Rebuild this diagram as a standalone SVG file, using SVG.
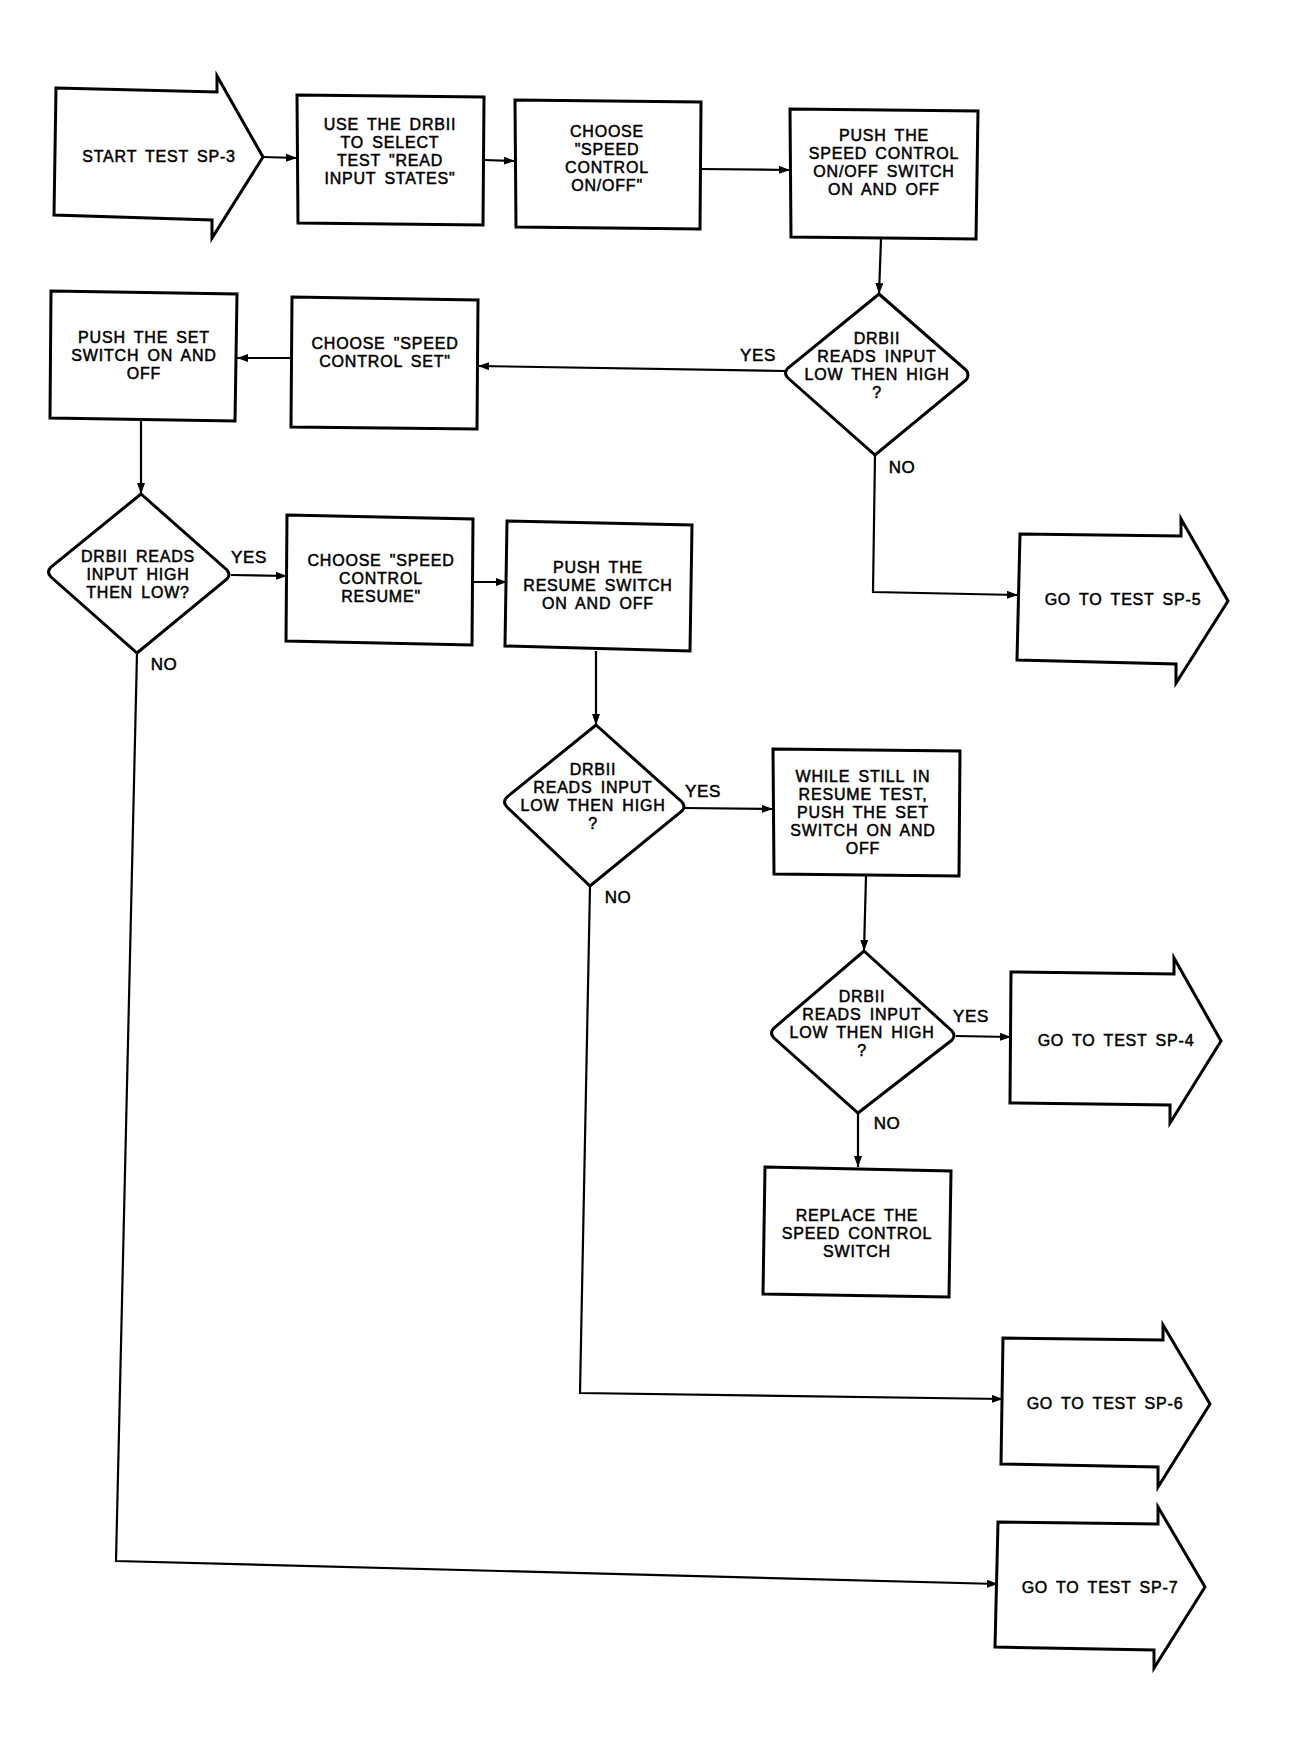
<svg xmlns="http://www.w3.org/2000/svg" width="1290" height="1751" viewBox="0 0 1290 1751">
<style>
.n{fill:#fff;stroke:#000;stroke-width:3;stroke-linejoin:miter}
.c{fill:none;stroke:#000;stroke-width:2.2}
.t{font-family:'Liberation Sans',Arial,sans-serif;font-size:16px;letter-spacing:0.8px;word-spacing:3px;text-anchor:middle;fill:#000;stroke:#000;stroke-width:0.5}
.l{font-family:'Liberation Sans',Arial,sans-serif;font-size:17px;letter-spacing:0.6px;text-anchor:middle;fill:#000;stroke:#000;stroke-width:0.5}
</style>
<defs>
<marker id="ah" markerUnits="userSpaceOnUse" markerWidth="12" markerHeight="10" refX="11" refY="4" orient="auto">
<path d="M0,0 L11,4 L0,8 z" fill="#000"/>
</marker>
</defs>
<rect width="1290" height="1751" fill="#fff"/>

<g id="connectors">
<line class="c" x1="263" y1="157" x2="297" y2="158" marker-end="url(#ah)"/>
<line class="c" x1="484" y1="160" x2="515" y2="161" marker-end="url(#ah)"/>
<line class="c" x1="701" y1="169" x2="790" y2="170" marker-end="url(#ah)"/>
<line class="c" x1="881" y1="239" x2="879" y2="294" marker-end="url(#ah)"/>
<line class="c" x1="785" y1="371" x2="478" y2="366" marker-end="url(#ah)"/>
<line class="c" x1="292" y1="358" x2="237" y2="358" marker-end="url(#ah)"/>
<line class="c" x1="141" y1="421" x2="141" y2="494" marker-end="url(#ah)"/>
<line class="c" x1="231" y1="575" x2="287" y2="576" marker-end="url(#ah)"/>
<line class="c" x1="473" y1="582" x2="507" y2="582" marker-end="url(#ah)"/>
<line class="c" x1="596" y1="651" x2="596" y2="725" marker-end="url(#ah)"/>
<line class="c" x1="685" y1="808" x2="773" y2="809" marker-end="url(#ah)"/>
<line class="c" x1="866" y1="876" x2="864" y2="951" marker-end="url(#ah)"/>
<line class="c" x1="956" y1="1036" x2="1011" y2="1037" marker-end="url(#ah)"/>
<line class="c" x1="858" y1="1113" x2="858" y2="1167" marker-end="url(#ah)"/>
<polyline class="c" points="875,455 873,592 1018,595" marker-end="url(#ah)"/>
<polyline class="c" points="590,886 580,1393 1003,1399" marker-end="url(#ah)"/>
<polyline class="c" points="137,653 116,1561 998,1584" marker-end="url(#ah)"/>
<text class="l" x="758" y="361">YES</text>
<text class="l" x="902" y="473">NO</text>
<text class="l" x="249" y="563">YES</text>
<text class="l" x="164" y="670">NO</text>
<text class="l" x="703" y="797">YES</text>
<text class="l" x="618" y="903">NO</text>
<text class="l" x="971" y="1022">YES</text>
<text class="l" x="887" y="1129">NO</text>
</g>

<g id="start">
<path class="n" d="M56,88 L217,92 L217,76 L263,157 L212,238 L212,220 L54,215 Z"/>
<text class="t" x="159" y="162">START TEST SP-3</text>
</g>

<g id="select-test">
<path class="n" d="M297,95 L484,97 L483,225 L298,223 Z"/>
<text class="t" x="390" y="130">USE THE DRBII</text>
<text class="t" x="390" y="148">TO SELECT</text>
<text class="t" x="390" y="166">TEST "READ</text>
<text class="t" x="390" y="184">INPUT STATES"</text>
</g>

<g id="choose-onoff">
<path class="n" d="M515,100 L701,102 L700,229 L516,227 Z"/>
<text class="t" x="607" y="137">CHOOSE</text>
<text class="t" x="607" y="155">"SPEED</text>
<text class="t" x="607" y="173">CONTROL</text>
<text class="t" x="607" y="191">ON/OFF"</text>
</g>

<g id="push-onoff">
<path class="n" d="M790,109 L978,111 L976,239 L791,237 Z"/>
<text class="t" x="884" y="141">PUSH THE</text>
<text class="t" x="884" y="159">SPEED CONTROL</text>
<text class="t" x="884" y="177">ON/OFF SWITCH</text>
<text class="t" x="884" y="195">ON AND OFF</text>
</g>

<g id="decision-onoff">
<path class="n" d="M879,294 L966,370 Q970,375 966,380 L875,455 L788,378 Q783,373 788,368 Z"/>
<text class="t" x="877" y="344">DRBII</text>
<text class="t" x="877" y="362">READS INPUT</text>
<text class="t" x="877" y="380">LOW THEN HIGH</text>
<text class="t" x="877" y="398">?</text>
</g>

<g id="choose-set">
<path class="n" d="M292,297 L478,300 L477,429 L291,427 Z"/>
<text class="t" x="385" y="349">CHOOSE "SPEED</text>
<text class="t" x="385" y="367">CONTROL SET"</text>
</g>

<g id="push-set">
<path class="n" d="M51,291 L237,294 L235,421 L50,418 Z"/>
<text class="t" x="144" y="343">PUSH THE SET</text>
<text class="t" x="144" y="361">SWITCH ON AND</text>
<text class="t" x="144" y="379">OFF</text>
</g>

<g id="go-sp5">
<path class="n" d="M1020,534 L1181,536 L1181,519 L1228,601 L1176,683 L1176,664 L1017,660 Z"/>
<text class="t" x="1123" y="605">GO TO TEST SP-5</text>
</g>

<g id="decision-set">
<path class="n" d="M141,494 L227,570 Q231,575 227,579 L137,653 L51,577 Q46,572 51,567 Z"/>
<text class="t" x="138" y="562">DRBII READS</text>
<text class="t" x="138" y="580">INPUT HIGH</text>
<text class="t" x="138" y="598">THEN LOW?</text>
</g>

<g id="choose-resume">
<path class="n" d="M287,515 L473,519 L472,645 L286,641 Z"/>
<text class="t" x="381" y="566">CHOOSE "SPEED</text>
<text class="t" x="381" y="584">CONTROL</text>
<text class="t" x="381" y="602">RESUME"</text>
</g>

<g id="push-resume">
<path class="n" d="M507,521 L692,525 L690,651 L505,646 Z"/>
<text class="t" x="598" y="573">PUSH THE</text>
<text class="t" x="598" y="591">RESUME SWITCH</text>
<text class="t" x="598" y="609">ON AND OFF</text>
</g>

<g id="decision-resume">
<path class="n" d="M596,725 L682,802 Q686,807 682,811 L590,886 L507,807 Q502,802 507,797 Z"/>
<text class="t" x="593" y="775">DRBII</text>
<text class="t" x="593" y="793">READS INPUT</text>
<text class="t" x="593" y="811">LOW THEN HIGH</text>
<text class="t" x="593" y="829">?</text>
</g>

<g id="push-set-resume">
<path class="n" d="M773,749 L960,751 L959,876 L774,874 Z"/>
<text class="t" x="863" y="782">WHILE STILL IN</text>
<text class="t" x="863" y="800">RESUME TEST,</text>
<text class="t" x="863" y="818">PUSH THE SET</text>
<text class="t" x="863" y="836">SWITCH ON AND</text>
<text class="t" x="863" y="854">OFF</text>
</g>

<g id="decision-final">
<path class="n" d="M864,951 L952,1031 Q956,1036 952,1040 L858,1113 L774,1038 Q769,1033 774,1028 Z"/>
<text class="t" x="862" y="1002">DRBII</text>
<text class="t" x="862" y="1020">READS INPUT</text>
<text class="t" x="862" y="1038">LOW THEN HIGH</text>
<text class="t" x="862" y="1056">?</text>
</g>

<g id="go-sp4">
<path class="n" d="M1011,972 L1174,974 L1174,958 L1221,1041 L1170,1123 L1170,1105 L1010,1103 Z"/>
<text class="t" x="1116" y="1046">GO TO TEST SP-4</text>
</g>

<g id="replace-switch">
<path class="n" d="M765,1167 L951,1171 L949,1297 L763,1294 Z"/>
<text class="t" x="857" y="1221">REPLACE THE</text>
<text class="t" x="857" y="1239">SPEED CONTROL</text>
<text class="t" x="857" y="1257">SWITCH</text>
</g>

<g id="go-sp6">
<path class="n" d="M1003,1338 L1163,1340 L1163,1325 L1210,1404 L1158,1487 L1158,1467 L1001,1464 Z"/>
<text class="t" x="1105" y="1409">GO TO TEST SP-6</text>
</g>

<g id="go-sp7">
<path class="n" d="M998,1522 L1158,1524 L1158,1507 L1205,1587 L1154,1668 L1154,1650 L995,1647 Z"/>
<text class="t" x="1100" y="1593">GO TO TEST SP-7</text>
</g>
</svg>
